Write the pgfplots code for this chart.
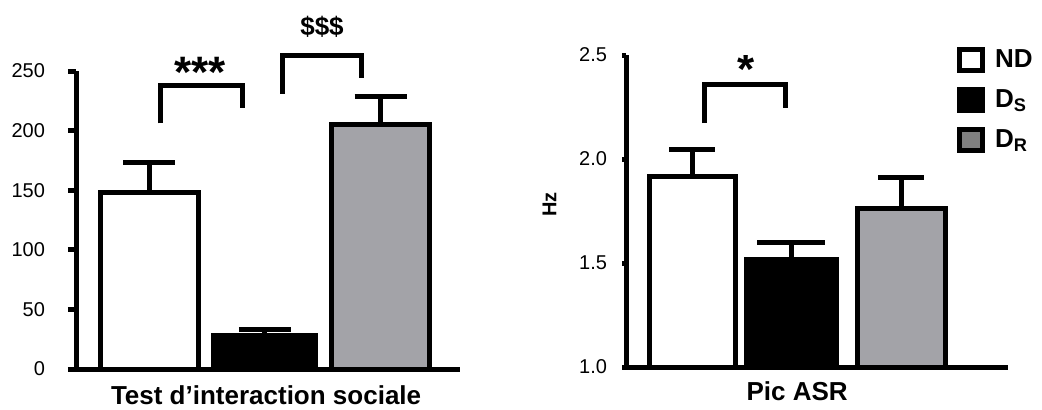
\documentclass[border=0pt]{standalone}
\usepackage{fontspec}
\setmainfont{Liberation Sans}
\usepackage{pgfplots}
\pgfplotsset{compat=1.18}

\definecolor{barGray}{RGB}{163,163,168}
\definecolor{legGray}{RGB}{128,128,128}

\pgfplotsset{
  panel/.style={
    scale only axis,
    ybar,
    axis x line=bottom,
    axis y line=left,
    axis line style={line width=2.5pt,-},
    xtick=\empty,
    tick align=outside,
    major tick length=4pt,
    tick style={line width=2.5pt, black},
    tick label style={font=\fontsize{10}{12}\selectfont},
    /pgf/number format/assume math mode=true,
    every axis plot/.append style={draw=black, line width=2.5pt, bar shift=0pt},
    error bars/error bar style={line width=2.5pt, black},
    xlabel style={font=\bfseries\fontsize{13}{15}\selectfont, anchor=center},
  },
}

\begin{document}
\begin{tikzpicture}
\path[use as bounding box] (0pt,0pt) rectangle (521pt,-204.5pt);

% left panel
\begin{axis}[panel,
    at={(38pt,-184.5pt)}, anchor=south west,
    width=192pt, height=149pt,
    xmin=0.369, xmax=3.686, ymin=0, ymax=250,
    ytick={0,50,...,250},
    yticklabel style={xshift=-8pt},
    clip=false,
    xlabel={Test d’interaction sociale},
    xlabel style={at={(axis description cs:0.495,-0.088)}},
  ]
  \addplot[fill=white, bar width=49pt,
    error bars/.cd, y dir=plus, y explicit,
    error mark options={rotate=90, mark size=13pt, line width=2.5pt, black}]
    coordinates {(1,148.5) +- (0,24.5)};
  \addplot[fill=black, bar width=51pt,
    error bars/.cd, y dir=plus, y explicit,
    error mark options={rotate=90, mark size=13pt, line width=2.5pt, black}]
    coordinates {(2,27.7) +- (0,5.3)};
  \addplot[fill=barGray, bar width=49pt,
    error bars/.cd, y dir=plus, y explicit,
    error mark options={rotate=90, mark size=13pt, line width=2.5pt, black}]
    coordinates {(3,205.5) +- (0,23.5)};
  % significance brackets
  \draw[line width=2.5pt] (axis cs:1.095,206) -- (axis cs:1.095,238) -- (axis cs:1.803,238) -- (axis cs:1.803,219);
  \node[font=\bfseries\fontsize{22}{24}\selectfont] at (axis cs:1.44,249) {***};
  \draw[line width=2.5pt] (axis cs:2.149,231) -- (axis cs:2.149,263) -- (axis cs:2.831,263) -- (axis cs:2.831,244);
  \node[font=\bfseries\fontsize{13}{15}\selectfont] at (axis cs:2.494,287) {\$\$\$};
\end{axis}

% right panel
\begin{axis}[panel,
    at={(313pt,-183.5pt)}, anchor=south west,
    width=191pt, height=156pt,
    xmin=0.368, xmax=4.024, ymin=1, ymax=2.5,
    ytick={1.0,1.5,2.0,2.5},
    major tick length=2pt,
    yticklabel style={xshift=-4pt, /pgf/number format/.cd, fixed, fixed zerofill, precision=1},
    xlabel={Pic ASR},
    xlabel style={at={(axis description cs:0.448,-0.078)}},
    ylabel={Hz},
    ylabel style={font=\bfseries\fontsize{10}{12}\selectfont, at={(axis description cs:-0.2,0.52)}, anchor=center},
    legend style={draw=none, fill=none, at={(0.85,1.045)}, anchor=north west,
      font=\bfseries\fontsize{13}{15}\selectfont, row sep=5.5pt,
      nodes={inner xsep=5pt}},
    legend cell align=left,
    legend image code/.code={\draw[#1, line width=2.5pt] (0pt,-5.25pt) rectangle (11.5pt,5.25pt);},
  ]
  \addplot[fill=white, bar width=43pt,
    error bars/.cd, y dir=plus, y explicit,
    error mark options={rotate=90, mark size=11.5pt, line width=2.5pt, black}]
    coordinates {(1,1.918) +- (0,0.13)};
  \addlegendentry{ND}
  \addplot[fill=black, bar width=45pt,
    error bars/.cd, y dir=plus, y explicit,
    error mark options={rotate=90, mark size=17pt, line width=2.5pt, black}]
    coordinates {(1.95,1.519) +- (0,0.081)};
  \addlegendentry{D\textsubscript{S}}
  \addplot[fill=barGray, bar width=44pt,
    legend image code/.code={\draw[black, fill=legGray, line width=2.5pt] (0pt,-5.25pt) rectangle (11.5pt,5.25pt);},
    error bars/.cd, y dir=plus, y explicit,
    error mark options={rotate=90, mark size=11.5pt, line width=2.5pt, black}]
    coordinates {(3,1.76) +- (0,0.15)};
  \addlegendentry{D\textsubscript{R}}
  \draw[line width=2.5pt] (axis cs:1.115,2.173) -- (axis cs:1.115,2.356) -- (axis cs:1.899,2.356) -- (axis cs:1.899,2.245);
  \node[font=\bfseries\fontsize{22}{24}\selectfont] at (axis cs:1.516,2.43) {*};
\end{axis}
\end{tikzpicture}
\end{document}
